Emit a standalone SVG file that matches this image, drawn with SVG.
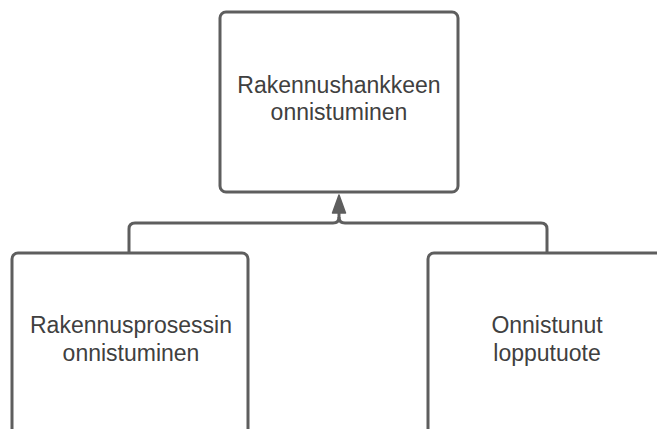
<svg xmlns="http://www.w3.org/2000/svg" width="657" height="429" viewBox="0 0 657 429">
  <style>
    .box { fill: #ffffff; stroke: #5e5e5e; stroke-width: 3; }
    .label { font-family: "Liberation Sans", Arial, sans-serif; font-size: 23px; fill: #404040; text-anchor: middle; }
    .wire { fill: none; stroke: #5e5e5e; stroke-width: 3; stroke-linejoin: round; }
    .head { fill: #5e5e5e; stroke: #5e5e5e; stroke-width: 1.5; stroke-linejoin: round; }
  </style>
  <rect width="657" height="429" fill="#ffffff"/>

  <g id="connectors">
    <path class="wire" d="M129,253 V229 Q129,223 135,223 H333 Q339,223 339,217 V210"/>
    <path class="wire" d="M547,253 V229 Q547,223 541,223 H345 Q339,223 339,217"/>
    <polygon class="head" points="339,195 332.5,213 345.5,213"/>
  </g>

  <g id="node-top">
    <rect class="box" x="220" y="12" width="238" height="180" rx="6"/>
    <text class="label" x="339" y="93">Rakennushankkeen</text>
    <text class="label" x="339" y="120">onnistuminen</text>
  </g>

  <g id="node-left">
    <rect class="box" x="12" y="253" width="236" height="200" rx="6"/>
    <text class="label" x="131" y="333">Rakennusprosessin</text>
    <text class="label" x="131" y="361">onnistuminen</text>
  </g>

  <g id="node-right">
    <rect class="box" x="428" y="253" width="260" height="200" rx="6"/>
    <text class="label" x="547" y="333">Onnistunut</text>
    <text class="label" x="547" y="361">lopputuote</text>
  </g>
</svg>
